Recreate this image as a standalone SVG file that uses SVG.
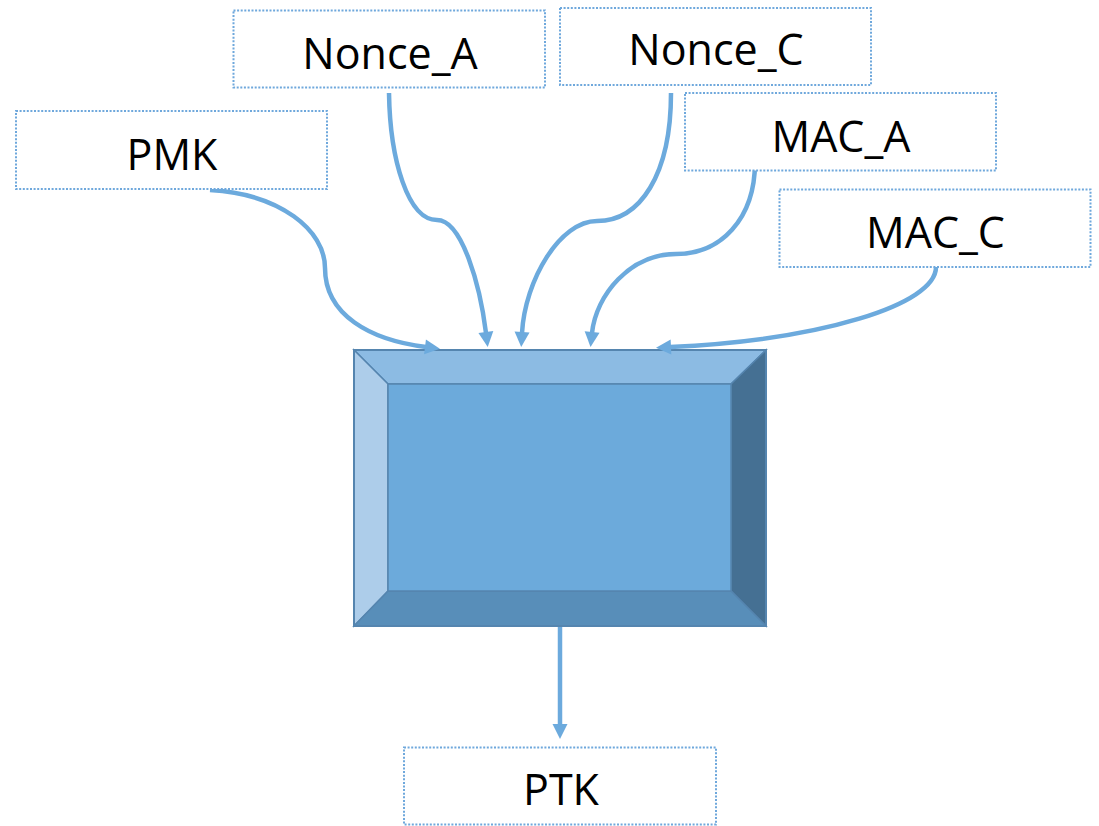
<svg xmlns="http://www.w3.org/2000/svg" width="1099" height="826" viewBox="0 0 1099 826">
  <defs>
    <style>
      .box { fill: #ffffff; stroke: #6FA8DC; stroke-width: 2; stroke-dasharray: 2 1.6; }
      .label { font-family: "Open Sans", "Noto Sans", sans-serif; font-size: 43px; fill: #000000; text-anchor: middle; }
      .link { fill: none; stroke: #6CAADD; stroke-width: 4.5; marker-end: url(#head); }
      .face { stroke: #5585AF; stroke-width: 1.5; stroke-linejoin: miter; }
    </style>
    <marker id="head" markerUnits="userSpaceOnUse" markerWidth="16" markerHeight="16" refX="1" refY="7.5" orient="auto" overflow="visible">
      <path d="M0,0 L15,7.5 L0,15 Z" fill="#6CAADD"/>
    </marker>
  </defs>

  <rect width="1099" height="826" fill="#ffffff"/>

  <!-- bevelled processing block -->
  <g id="block">
    <polygon class="face" points="354,350 766,350 731,384 388,384" fill="#8CBBE3"/>
    <polygon class="face" points="354,350 388,384 388,591 354,626" fill="#ADCDEA"/>
    <polygon class="face" points="766,350 766,626 731,591 731,384" fill="#457093"/>
    <polygon class="face" points="354,626 388,591 731,591 766,626" fill="#588EB9"/>
    <rect class="face" x="388" y="384" width="343" height="207" fill="#6CAADB"/>
    <rect x="354" y="350" width="412" height="276" fill="none" stroke="#5585AF" stroke-width="2"/>
  </g>

  <!-- connectors -->
  <g id="connectors">
    <path class="link" d="M210,190 C280,194 325,230 325,268 C325,315 370,340 426,347"/>
    <path class="link" d="M389,93 C390,160 408,220 437,220 C462,220 480,285 486,333"/>
    <path class="link" d="M671,93 C671,175 640,221 597,221 C560,221 525,280 522,333"/>
    <path class="link" d="M755,162 C755,220 720,254 676,254 C630,254 596,295 592,333"/>
    <path class="link" d="M936,267 C936,305 820,340 670,347"/>
    <path class="link" d="M560,627 L560,725"/>
  </g>

  <g id="pmk">
    <rect class="box" x="16" y="111" width="311" height="78"/>
    <text class="label" x="172" y="170">PMK</text>
  </g>
  <g id="nonce-a">
    <rect class="box" x="233.5" y="10.5" width="311.5" height="77"/>
    <text class="label" x="390" y="69">Nonce_A</text>
  </g>
  <g id="nonce-c">
    <rect class="box" x="560" y="8" width="311" height="77"/>
    <text class="label" x="716" y="65">Nonce_C</text>
  </g>
  <g id="mac-a">
    <rect class="box" x="685" y="93" width="311" height="77.5"/>
    <text class="label" x="841" y="151.5">MAC_A</text>
  </g>
  <g id="mac-c">
    <rect class="box" x="779.5" y="189.5" width="311" height="77.5"/>
    <text class="label" x="935.5" y="247.5">MAC_C</text>
  </g>
  <g id="ptk">
    <rect class="box" x="404" y="747.5" width="312" height="77"/>
    <text class="label" x="561" y="805">PTK</text>
  </g>
</svg>
